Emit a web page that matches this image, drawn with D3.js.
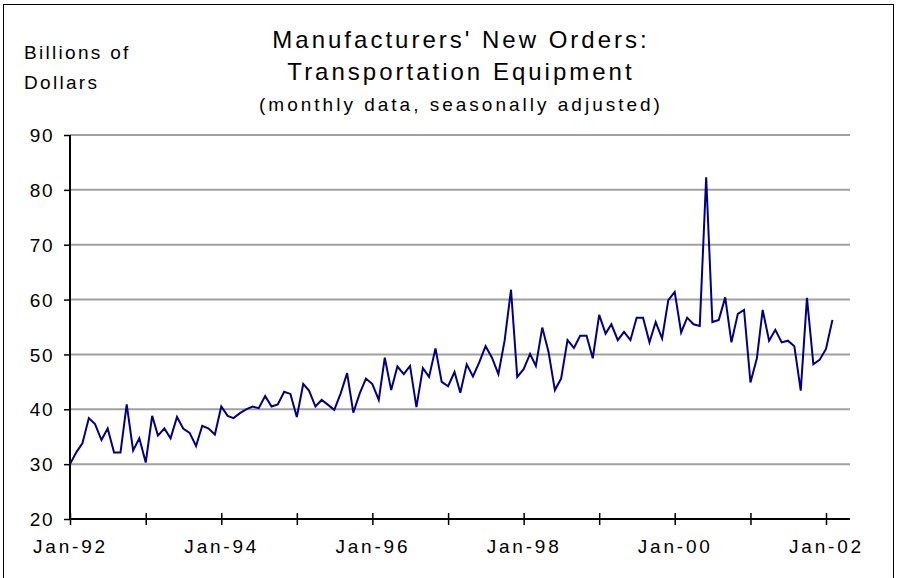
<!DOCTYPE html>
<html>
<head>
<meta charset="utf-8">
<script src="https://d3js.org/d3.v7.min.js"></script>
<style>
  body { margin: 0; background: #fff; }
  text { font-family: "Liberation Sans", Arial, sans-serif; fill: #000; }
</style>
</head>
<body>
<div id="chart"></div>
<script>
// monthly values, Jan-92 .. Feb-02 (billions of dollars)
var values = [
  30.0, 32.2, 33.8, 38.4, 37.3, 34.4, 36.5, 32.1, 32.1, 40.9, 32.5, 34.7,
  30.3, 38.8, 35.2, 36.5, 34.7, 38.6, 36.5, 35.7, 33.3, 37.0, 36.5, 35.4,
  40.5, 38.8, 38.4, 39.3, 40.0, 40.5, 40.2, 42.4, 40.5, 40.9, 43.2, 42.8,
  38.6, 44.6, 43.4, 40.5, 41.7, 40.8, 39.9, 42.9, 46.6, 39.4, 42.9, 45.6,
  44.6, 41.7, 49.4, 43.5, 47.8, 46.4, 47.9, 40.4, 47.5, 45.9, 51.1, 45.0,
  44.2, 46.8, 43.0, 48.2, 46.0, 48.6, 51.5, 49.4, 46.4, 52.5, 61.8, 45.9,
  47.3, 50.1, 47.9, 54.9, 50.5, 43.5, 45.6, 52.6, 51.2, 53.4, 53.4, 49.3,
  57.2, 53.8, 55.5, 52.6, 54.1, 52.6, 56.7, 56.7, 52.2, 55.9, 52.9, 59.9,
  61.4, 54.0, 56.7, 55.5, 55.2, 82.3, 55.9, 56.3, 60.4, 52.2, 57.4, 58.1,
  44.9, 49.3, 58.1, 52.5, 54.5, 52.2, 52.5, 51.5, 43.4, 60.3, 48.2, 49.0,
  51.0, 56.3
];
var startYear = 1992;
var yearTicks = d3.range(1992, 2003);            // tick mark each January
var labelYears = [1992, 1994, 1996, 1998, 2000, 2002];
var yTicks = [20, 30, 40, 50, 60, 70, 80, 90];

var data = values.map(function(v, i) {
  return { date: new Date(startYear + Math.floor(i / 12), i % 12, 1), value: v };
});

var W = 900, H = 578;
var svg = d3.select("#chart").append("svg")
  .attr("width", W).attr("height", H);

// outer frame
svg.append("rect")
  .attr("x", 3.5).attr("y", 4.5)
  .attr("width", 890).attr("height", 580)
  .attr("fill", "none").attr("stroke", "#000").attr("stroke-width", 1);

var x = d3.scaleTime()
  .domain([new Date(1992, 0, 1), new Date(2002, 0, 1)])
  .range([70, 826]);
var y = d3.scaleLinear()
  .domain([20, 90])
  .range([519, 135]);

// gridlines
svg.append("g").selectAll("line")
  .data(yTicks.filter(function(d) { return d > 20; }))
  .enter().append("line")
    .attr("x1", 70).attr("x2", 850)
    .attr("y1", function(d) { return y(d); })
    .attr("y2", function(d) { return y(d); })
    .attr("stroke", "#a0a0a0").attr("stroke-width", 2);

// y axis
var yAxis = svg.append("g")
  .attr("transform", "translate(70,0)")
  .call(d3.axisLeft(y).tickValues(yTicks).tickSize(6).tickPadding(10)
    .tickFormat(d3.format("d")));
yAxis.select(".domain").attr("stroke", "#000").attr("stroke-width", 2)
  .attr("d", "M0," + y(90) + "V" + y(20));
yAxis.selectAll(".tick line").attr("stroke", "#000").attr("stroke-width", 1.5);
yAxis.selectAll(".tick text")
  .style("font-size", "19px").style("letter-spacing", "1.5px")
  .attr("dy", "0.35em");

// x axis
var xAxis = svg.append("g")
  .attr("transform", "translate(0," + y(20) + ")")
  .call(d3.axisBottom(x)
    .tickValues(yearTicks.map(function(yr) { return new Date(yr, 0, 1); }))
    .tickSize(6).tickPadding(15)
    .tickFormat(function(d) {
      var yr = d.getFullYear();
      return labelYears.indexOf(yr) >= 0 ? "Jan-" + String(yr).slice(2) : "";
    }));
xAxis.select(".domain").attr("stroke", "#000").attr("stroke-width", 2)
  .attr("d", "M70,0H850");
xAxis.selectAll(".tick line").attr("stroke", "#000").attr("stroke-width", 1.5)
  .attr("y1", -6).attr("y2", 6);
xAxis.selectAll(".tick text")
  .style("font-size", "19px").style("letter-spacing", "2.8px");

// data line
svg.append("path")
  .datum(data)
  .attr("fill", "none")
  .attr("stroke", "#000080")
  .attr("stroke-width", 2)
  .attr("stroke-linejoin", "miter")
  .attr("d", d3.line()
    .x(function(d) { return x(d.date); })
    .y(function(d) { return y(d.value); }));

// titles
svg.append("text")
  .attr("x", 461).attr("y", 48)
  .attr("text-anchor", "middle")
  .style("font-size", "24px").style("letter-spacing", "3px")
  .text("Manufacturers' New Orders:");
svg.append("text")
  .attr("x", 461).attr("y", 80)
  .attr("text-anchor", "middle")
  .style("font-size", "24px").style("letter-spacing", "3px")
  .text("Transportation Equipment");
svg.append("text")
  .attr("x", 461).attr("y", 111)
  .attr("text-anchor", "middle")
  .style("font-size", "19px").style("letter-spacing", "3px")
  .text("(monthly data, seasonally adjusted)");

// y axis title
svg.append("text")
  .attr("x", 24).attr("y", 59)
  .style("font-size", "19px").style("letter-spacing", "2.3px")
  .text("Billions of");
svg.append("text")
  .attr("x", 24).attr("y", 89)
  .style("font-size", "19px").style("letter-spacing", "2.3px")
  .text("Dollars");
</script>
</body>
</html>
